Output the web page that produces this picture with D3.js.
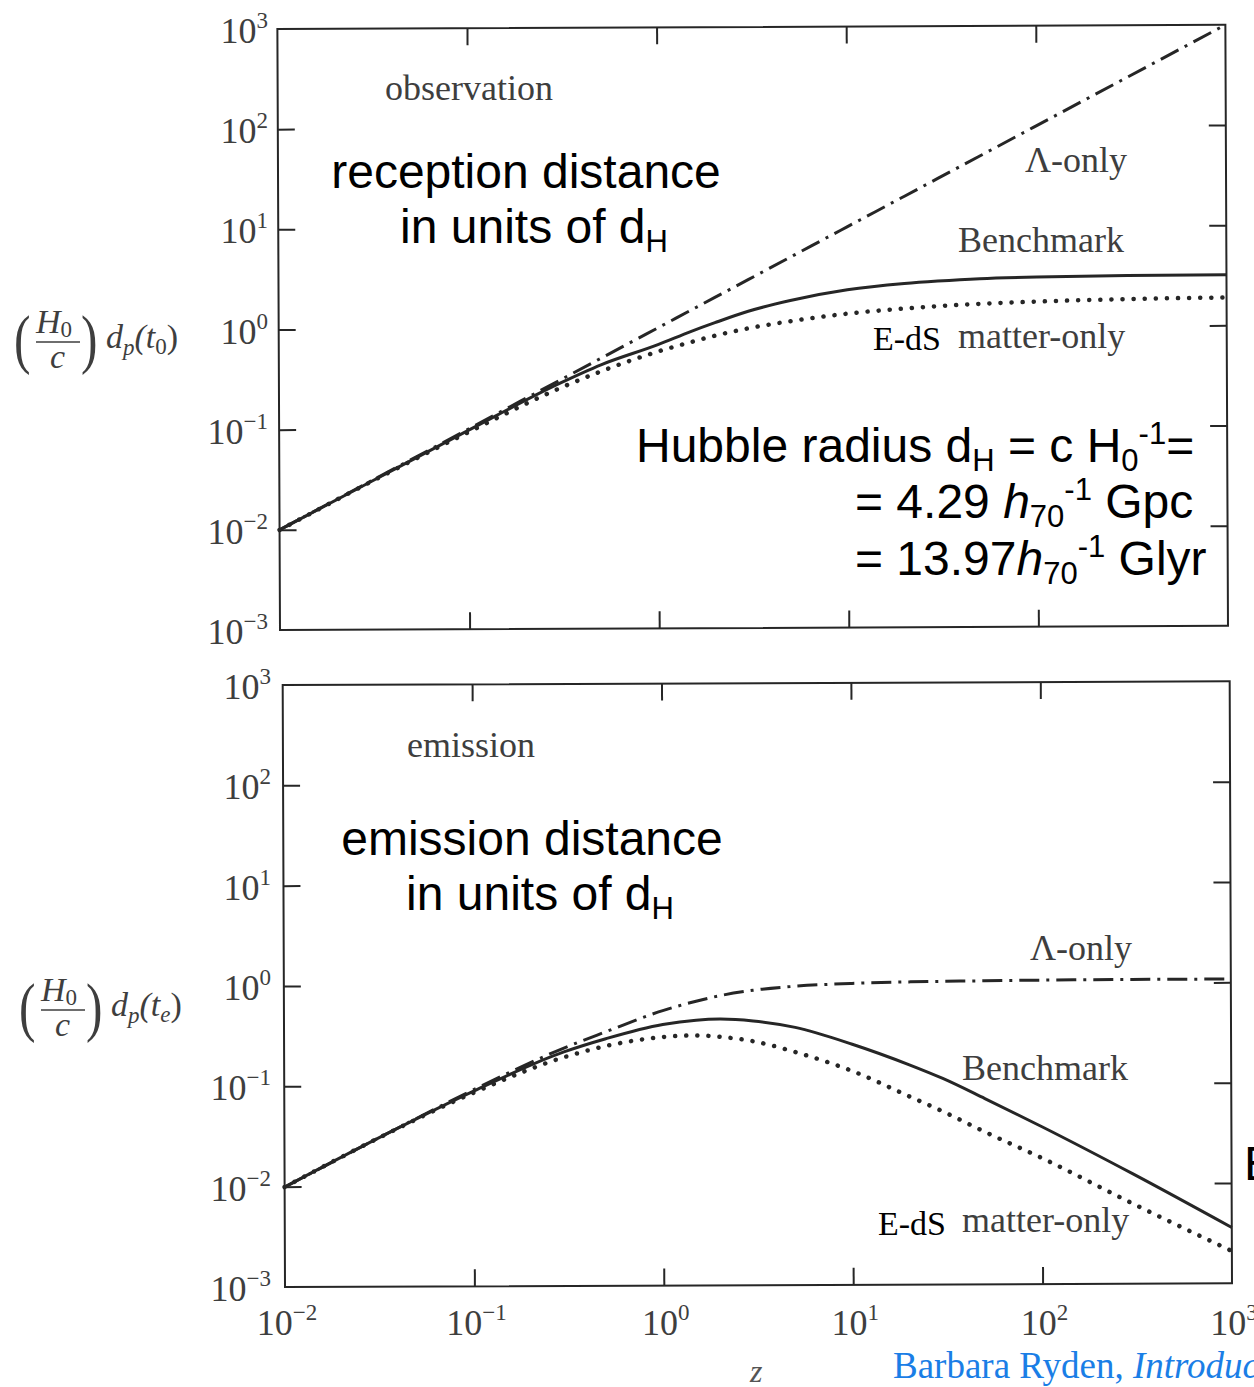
<!DOCTYPE html>
<html>
<head>
<meta charset="utf-8">
<script src="https://cdn.jsdelivr.net/npm/d3@7"></script>
<style>
body { margin: 0; background: #fff; }
svg { display: block; }
.serif { font-family: "Liberation Serif", "DejaVu Serif", serif; }
.sans { font-family: "Liberation Sans", Arial, sans-serif; }
</style>
</head>
<body>
<svg></svg>
<script>
const zVals = [0.01, 0.03, 0.1, 0.3, 0.5, 1, 1.5, 2, 3, 5, 10, 20, 30, 50, 100, 300, 1000];

// top panel: (H0/c) dp(t0)
const lambdaTop = [0.01, 0.03, 0.1, 0.3, 0.5, 1, 1.5, 2, 3, 5, 10, 20, 30, 50, 100, 300, 1000];
const benchTop  = [0.01, 0.0296, 0.097, 0.28, 0.43, 0.68, 0.92, 1.12, 1.45, 1.85, 2.35, 2.7, 2.85, 3.0, 3.1, 3.18, 3.2];
const edsTop    = [0.00995, 0.0295, 0.093, 0.25, 0.37, 0.58, 0.72, 0.83, 0.98, 1.15, 1.36, 1.52, 1.6, 1.68, 1.76, 1.85, 1.9];

// bottom panel: (H0/c) dp(te)
const lambdaBot = [0.0099, 0.029, 0.091, 0.235, 0.34, 0.55, 0.68, 0.77, 0.87, 0.95, 1.01, 1.04, 1.05, 1.06, 1.07, 1.08, 1.08];
const benchBot  = [0.0099, 0.029, 0.088, 0.215, 0.29, 0.40, 0.44, 0.45, 0.43, 0.37, 0.25, 0.155, 0.113, 0.071, 0.037, 0.0125, 0.0036];
const edsBot    = [0.0099, 0.029, 0.085, 0.19, 0.245, 0.30, 0.31, 0.30, 0.27, 0.21, 0.135, 0.075, 0.053, 0.033, 0.018, 0.0063, 0.0021];

// ticks
const xTicks = [1e-2, 1e-1, 1e0, 1e1, 1e2, 1e3];
const xTickExp = ["\u22122", "\u22121", "0", "1", "2", "3"];
const yTicks = [1e-3, 1e-2, 1e-1, 1e0, 1e1, 1e2, 1e3];
const yTickExp = ["\u22123", "\u22122", "\u22121", "0", "1", "2", "3"];

const inkColor = "#262626";
const printColor = "#3e3e3e";

const width = 1254;
const height = 1387;
let svg = d3.select("svg")
            .attr("width", width)
            .attr("height", height);

let panels = [
    { x0: 280, x1: 1228, y0: 29, y1: 630, tilt: -0.25, labelX: 268,
      series: [lambdaTop, benchTop, edsTop], xLabels: false },
    { x0: 285, x1: 1232, y0: 685, y1: 1287, tilt: -0.22, labelX: 271,
      series: [lambdaBot, benchBot, edsBot], xLabels: true }
];

let styles = [
    { dash: "20,7,3,7", width: 3, cap: "butt" },   // Lambda-only
    { dash: null, width: 3, cap: "butt" },         // Benchmark
    { dash: "0.1,11", width: 4.5, cap: "round" }   // E-dS
];

function drawPanel(p) {
    let scX = d3.scaleLog().domain([1e-2, 1e3]).range([p.x0, p.x1]);
    let scY = d3.scaleLog().domain([1e-3, 1e3]).range([p.y1, p.y0]);

    let g = svg.append("g")
        .attr("transform", `rotate(${p.tilt}, ${p.x0}, ${p.y1})`);

    g.append("rect")
        .attr("x", p.x0).attr("y", p.y0)
        .attr("width", p.x1 - p.x0).attr("height", p.y1 - p.y0)
        .attr("fill", "none")
        .attr("stroke", inkColor)
        .attr("stroke-width", 2);

    let innerX = xTicks.slice(1, -1);
    let innerY = yTicks.slice(1, -1);
    let tick = 17;

    let axes = [
        [d3.axisTop(scX).tickValues(innerX), `translate(0, ${p.y1})`],
        [d3.axisBottom(scX).tickValues(innerX), `translate(0, ${p.y0})`],
        [d3.axisRight(scY).tickValues(innerY), `translate(${p.x0}, 0)`],
        [d3.axisLeft(scY).tickValues(innerY), `translate(${p.x1}, 0)`]
    ];
    axes.forEach(([ax, tr]) => {
        g.append("g")
            .attr("transform", tr)
            .call(ax.tickSize(tick).tickSizeOuter(0).tickFormat(""))
            .call(a => a.select(".domain").remove())
            .selectAll("line")
            .attr("stroke", inkColor)
            .attr("stroke-width", 2);
    });

    let line = d3.line()
        .x(d => scX(d[0]))
        .y(d => scY(d[1]))
        .curve(d3.curveMonotoneX);

    p.series.forEach((vals, i) => {
        let st = styles[i];
        g.append("path")
            .datum(d3.zip(zVals, vals))
            .attr("d", line)
            .attr("fill", "none")
            .attr("stroke", inkColor)
            .attr("stroke-width", st.width)
            .attr("stroke-linecap", st.cap)
            .attr("stroke-dasharray", st.dash);
    });

    // y tick labels  10^n
    yTicks.forEach((v, i) => {
        let t = svg.append("text")
            .attr("class", "serif")
            .attr("x", p.labelX)
            .attr("y", scY(v) + 14)
            .attr("text-anchor", "end")
            .attr("fill", printColor)
            .attr("font-size", 36);
        t.append("tspan").text("10");
        t.append("tspan").attr("dy", -15).attr("font-size", 23).text(yTickExp[i]);
    });

    if (p.xLabels) {
        xTicks.forEach((v, i) => {
            let t = svg.append("text")
                .attr("class", "serif")
                .attr("x", scX(v) + 2)
                .attr("y", p.y1 + 48)
                .attr("text-anchor", "middle")
                .attr("fill", printColor)
                .attr("font-size", 36);
            t.append("tspan").text("10");
            t.append("tspan").attr("dy", -15).attr("font-size", 23).text(xTickExp[i]);
        });
    }
}

panels.forEach(drawPanel);

// printed curve labels
function serifLabel(x, y, str, color, size) {
    svg.append("text")
        .attr("class", "serif")
        .attr("x", x).attr("y", y)
        .attr("font-size", size || 36)
        .attr("fill", color || printColor)
        .text(str);
}

serifLabel(385, 100, "observation");
serifLabel(1025, 172, "\u039B-only");
serifLabel(958, 252, "Benchmark");
serifLabel(873, 350, "E-dS", "#000", 34);
serifLabel(958, 348, "matter-only");

serifLabel(407, 757, "emission");
serifLabel(1030, 960, "\u039B-only");
serifLabel(962, 1080, "Benchmark");
serifLabel(878, 1235, "E-dS", "#000", 34);
serifLabel(962, 1232, "matter-only");

// y axis titles (H0/c) dp(t)
function yTitle(x, yBar, sub) {
    let g = svg.append("g").attr("class", "serif").attr("fill", printColor);
    g.append("text").attr("x", x).attr("y", yBar + 19).attr("font-size", 66)
        .attr("transform", `translate(${x}, 0) scale(0.75, 1) translate(${-x}, 0)`).text("(");
    let h = g.append("text").attr("x", x + 22).attr("y", yBar - 9).attr("font-size", 34).attr("font-style", "italic");
    h.append("tspan").text("H");
    h.append("tspan").attr("font-style", "normal").attr("font-size", 23).attr("dy", 4).text("0");
    g.append("line").attr("x1", x + 22).attr("x2", x + 66).attr("y1", yBar).attr("y2", yBar)
        .attr("stroke", printColor).attr("stroke-width", 1.5);
    g.append("text").attr("x", x + 36).attr("y", yBar + 26).attr("font-size", 34).attr("font-style", "italic").text("c");
    g.append("text").attr("x", x + 67).attr("y", yBar + 19).attr("font-size", 66)
        .attr("transform", `translate(${x + 67}, 0) scale(0.75, 1) translate(${-x - 67}, 0)`).text(")");
    let d = g.append("text").attr("x", x + 92).attr("y", yBar + 6).attr("font-size", 34).attr("font-style", "italic");
    d.append("tspan").text("d");
    d.append("tspan").attr("font-size", 23).attr("dy", 7).text("p");
    d.append("tspan").attr("dy", -7).text("(t");
    d.append("tspan").attr("font-size", 23).attr("dy", 6).attr("font-style", sub === "0" ? "normal" : "italic").text(sub);
    d.append("tspan").attr("dy", -6).attr("font-style", "normal").text(")");
}
yTitle(14, 342, "0");
yTitle(19, 1010, "e");

svg.append("text").attr("class", "serif")
    .attr("x", 750).attr("y", 1382)
    .attr("font-size", 32).attr("font-style", "italic")
    .attr("fill", "#555").text("z");

// slide annotations (sans)
function sansLine(x, y, parts, anchor) {
    let t = svg.append("text").attr("class", "sans")
        .attr("x", x).attr("y", y)
        .attr("font-size", 48)
        .attr("fill", "#000")
        .attr("text-anchor", anchor || "start");
    let shift = 0;
    parts.forEach(pt => {
        let span = t.append("tspan").text(pt.t);
        let target = pt.sub ? 9 : pt.sup ? -18 : 0;
        if (target !== shift) { span.attr("dy", target - shift); shift = target; }
        if (pt.sub || pt.sup) span.attr("font-size", 31);
        if (pt.it) span.attr("font-style", "italic");
    });
}

sansLine(526, 188, [{ t: "reception distance" }], "middle");
sansLine(534, 243, [{ t: "in units of d" }, { t: "H", sub: true }], "middle");
sansLine(532, 855, [{ t: "emission distance" }], "middle");
sansLine(540, 910, [{ t: "in units of d" }, { t: "H", sub: true }], "middle");

sansLine(636, 462, [{ t: "Hubble radius d" }, { t: "H", sub: true }, { t: " = c H" },
    { t: "0", sub: true }, { t: "-1", sup: true }, { t: "=" }]);
sansLine(855, 518, [{ t: "= 4.29 " }, { t: "h", it: true }, { t: "70", sub: true },
    { t: "-1", sup: true }, { t: " Gpc" }]);
sansLine(855, 575, [{ t: "= 13.97" }, { t: "h", it: true }, { t: "70", sub: true },
    { t: "-1", sup: true }, { t: " Glyr" }]);

// letter cut by the right edge
sansLine(1244, 1180, [{ t: "E" }]);

// source credit
let credit = svg.append("text").attr("class", "serif")
    .attr("x", 893).attr("y", 1378)
    .attr("font-size", 37)
    .attr("fill", "#1a7ee6");
credit.append("tspan").text("Barbara Ryden, ");
credit.append("tspan").attr("font-style", "italic").text("Introduction to Cosmology");
</script>
</body>
</html>
